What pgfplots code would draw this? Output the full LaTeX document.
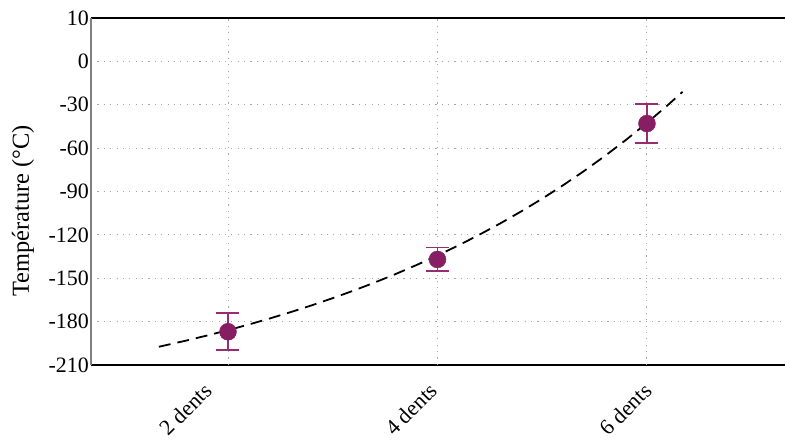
\documentclass[border=0pt]{standalone}
\usepackage{pgfplots}
\pgfplotsset{compat=1.18}
\usetikzlibrary{calc}
\usepackage{fontspec}
\setmainfont{Liberation Serif}
\definecolor{mk}{RGB}{135,30,100}
\definecolor{eb}{RGB}{150,45,115}
\begin{document}
\begin{tikzpicture}
\begin{axis}[
  scale only axis, width=694bp, height=347bp,
  xmin=-0.654, xmax=2.659, ymin=-210, ymax=30,
  xtick={0,1.076,2.1}, xticklabels={2 dents,4 dents,6 dents},
  extra x ticks={0,1,2}, extra x tick labels={,,},
  extra x tick style={xmajorgrids=true, major tick length=0pt},
  ytick={-210,-180,-150,-120,-90,-60,-30,0,30},
  yticklabels={-210,-180,-150,-120,-90,-60,-30,0,10},
  xticklabel style={xshift=-20bp, yshift=-22bp, rotate=45, anchor=east, inner sep=0pt, font=\fontsize{22}{26}\selectfont},
  yticklabel style={font=\fontsize{22}{26}\selectfont, inner sep=2bp},
  major tick length=0pt,
  xmajorgrids=false, ymajorgrids=true,
  grid style={gray!70, line width=1pt, dash pattern=on 1.2pt off 5.2pt},
  axis x line*=box, axis y line*=left,
  separate axis lines,
  x axis line style={-, black, line width=1.3pt},
  y axis line style={-, gray, line width=1.5pt},
  ylabel={Température (°C)},
  ylabel style={at={(axis description cs:-0.098,0.444)}, anchor=center, font=\fontsize{24.5}{28}\selectfont},
]
\addplot[black, line width=1.8pt, dash pattern=on 12pt off 7pt] coordinates {
(-0.33,-197.39) (-0.2,-193.13) (-0.1,-189.61) (0,-185.9) (0.1,-181.96)
(0.2,-177.79) (0.3,-173.39) (0.4,-168.71) (0.5,-163.76) (0.6,-158.52)
(0.7,-152.97) (0.8,-147.09) (0.9,-140.86) (1.0,-134.26) (1.1,-127.28)
(1.2,-119.88) (1.3,-112.04) (1.4,-103.74) (1.5,-94.96) (1.6,-85.65)
(1.7,-75.79) (1.8,-65.35) (1.9,-54.29) (2.0,-42.58) (2.1,-30.18) (2.17,-21.06)
};
\addplot[only marks, mark=*, mark size=8.5bp, color=mk,
  error bars/.cd, y dir=both, y explicit,
  error bar style={line width=1.8pt, color=eb},
  error mark options={rotate=90, mark size=11.5bp, line width=1.8pt, color=eb}]
coordinates {
(0,-187) +- (0,12.7)
(1,-137) +- (0,8.2)
(2,-43) +- (0,13.3)
};
\end{axis}
\path ($(current axis.south west)+(-91bp,-76bp)$) rectangle ($(current axis.north east)+(1bp,18bp)$);
\end{tikzpicture}
\end{document}
